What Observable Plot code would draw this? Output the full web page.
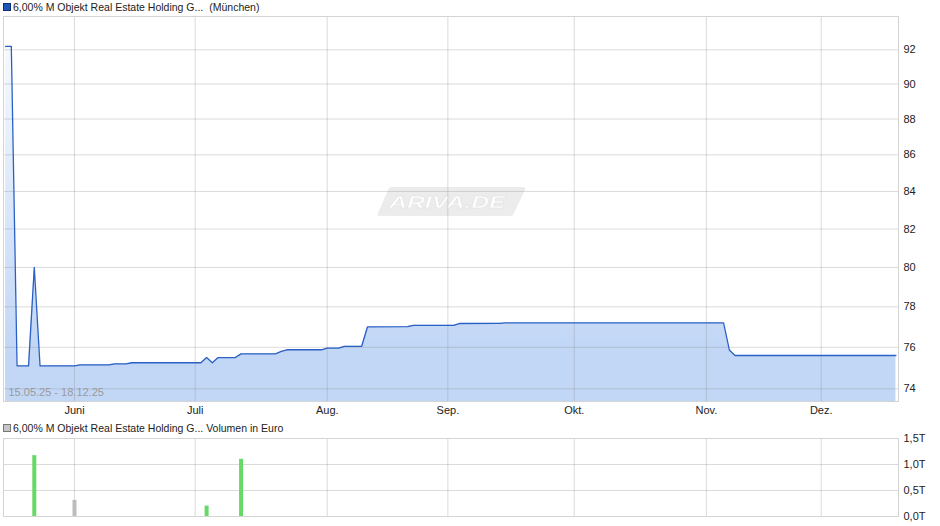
<!DOCTYPE html>
<html>
<head>
<meta charset="utf-8">
<script src="https://cdn.jsdelivr.net/npm/d3@7"></script>
<script src="https://cdn.jsdelivr.net/npm/@observablehq/plot@0.6"></script>
<style>
  body { margin: 0; background: #fff; font-family: "Liberation Sans", Arial, sans-serif; }
  #wrap { position: relative; width: 940px; height: 526px; overflow: hidden; }
  #price, #vol { position: absolute; left: 0; }
  #price { top: 0; }
  #vol { top: 430px; }
  .ttl { position: absolute; left: 3px; font-size: 10.5px; color: #222; white-space: nowrap; line-height: 14px; display: flex; align-items: center; }
  .sq { display: inline-block; width: 6px; height: 6px; margin-right: 2px; }
</style>
</head>
<body>
<div id="wrap">
  <div id="price"></div>
  <div id="vol"></div>
  <div class="ttl" style="top:0px"><span class="sq" style="background:#1d55b8;border:1px solid #0d2f70"></span>6,00% M Objekt Real Estate Holding G...<span style="margin-left:6px">(München)</span></div>
  <div class="ttl" style="top:421px"><span class="sq" style="background:#c6c6c6;border:1px solid #777"></span>6,00% M Objekt Real Estate Holding G... Volumen in Euro</div>
</div>
<script>
// ---- data ----
const startDate = "2025-05-15";
const priceDates = ["2025-05-15","2025-05-16","2025-05-19","2025-05-21","2025-05-22","2025-05-23","2025-06-02","2025-06-03","2025-06-10","2025-06-11","2025-06-13","2025-06-16","2025-07-02","2025-07-03","2025-07-04","2025-07-07","2025-07-10","2025-07-11","2025-07-21","2025-07-22","2025-07-23","2025-07-31","2025-08-01","2025-08-05","2025-08-06","2025-08-11","2025-08-12","2025-08-21","2025-08-22","2025-09-02","2025-09-03","2025-09-12","2025-09-15","2025-11-06","2025-11-07","2025-11-10","2025-12-18"];
const priceValues = [92.2,92.2,75.1,75.1,80.0,75.1,75.1,75.15,75.15,75.2,75.2,75.25,75.25,75.5,75.25,75.5,75.5,75.68,75.68,75.8,75.88,75.88,75.96,75.96,76.05,76.05,77.0,77.02,77.08,77.08,77.17,77.18,77.2,77.2,75.87,75.6,75.6];
const volDates = ["2025-05-22","2025-06-02","2025-07-03","2025-07-11"];
const volValues = [1.17, 0.31, 0.20, 1.10]; // in Tausend Euro
const volDir = ["up","flat","up","up"];
const monthDates = ["2025-06-02","2025-07-01","2025-08-01","2025-09-01","2025-10-01","2025-11-03","2025-12-01"];
const monthLabels = ["Juni","Juli","Aug.","Sep.","Okt.","Nov.","Dez."];
const priceTicks = [74,76,78,80,82,84,86,88,90,92];
const volTicks = [0,0.5,1.0,1.5];
const rangeLabel = "15.05.25 - 18.12.25";
const watermark = "ARIVA.DE";

// trading-day (weekday) index from start date
function tIdx(s) {
  const d = new Date(startDate + "T00:00:00Z"), t = new Date(s + "T00:00:00Z");
  let n = 0;
  while (d < t) { const w = d.getUTCDay(); if (w !== 0 && w !== 6) n++; d.setUTCDate(d.getUTCDate() + 1); }
  return n;
}
const price = priceDates.map((d, k) => ({i: tIdx(d), v: priceValues[k]}));
const vol = volDates.map((d, k) => ({i: tIdx(d), v: volValues[k], dir: volDir[k]}));
const monthIdx = monthDates.map(tIdx);
const xDomain = [-0.36, 155.45];
const yDomain = [73.40, 93.99];
const font = "Liberation Sans, Arial, sans-serif";

const priceChart = Plot.plot({
  width: 940, height: 420,
  marginTop: 16, marginBottom: 19, marginLeft: 3, marginRight: 42,
  style: {fontFamily: font, fontSize: "11px", color: "#222"},
  x: {domain: xDomain, axis: null},
  y: {type: "log", domain: yDomain, axis: null},
  marks: [
    Plot.areaY(price, {x: "i", y1: yDomain[0], y2: "v", fill: "url(#pg)"}),
    Plot.gridY({ticks: priceTicks, stroke: "#888", strokeOpacity: 0.3}),
    Plot.gridX({ticks: monthIdx, stroke: "#888", strokeOpacity: 0.3}),
    Plot.line(price, {x: "i", y: "v", stroke: "#2a60c4", strokeWidth: 1.3}),
    Plot.frame({stroke: "#d4d4d4"}),
    Plot.text([rangeLabel], {frameAnchor: "bottom-left", dx: 5, dy: -6, textAnchor: "start", fill: "#9a9a9a", fontSize: 11}),
    Plot.axisY({anchor: "right", ticks: priceTicks, tickSize: 0, tickPadding: 5, tickFormat: d => String(d), label: null}),
    Plot.axisX({ticks: monthIdx, tickSize: 0, tickPadding: 5, tickFormat: d => monthLabels[monthIdx.indexOf(d)], label: null})
  ]
});
document.getElementById("price").appendChild(priceChart);

// gradient + watermark (behind the grid)
(function() {
  const svg = d3.select(priceChart);
  const defs = svg.insert("defs", ":first-child");
  const g = defs.append("linearGradient").attr("id", "pg").attr("gradientUnits", "userSpaceOnUse")
    .attr("x1", 0).attr("x2", 0).attr("y1", 16).attr("y2", 345);
  g.append("stop").attr("offset", 0).attr("stop-color", "#fbfdff");
  g.append("stop").attr("offset", 1).attr("stop-color", "#c2d7f6");
  const wm = svg.insert("g", "defs + *");
  wm.append("path").attr("d", "M391,187 L523,187 Q526,187 525,190 L514,213 Q513,216 510,216 L380,216 Q376,216 378,213 L388,190 Q389,187 391,187 Z")
    .attr("fill", "#ececec");
  wm.append("text").attr("transform", "translate(389,208) scale(1.55,1)")
    .attr("text-anchor", "start")
    .attr("font-size", 16).attr("font-style", "italic").attr("font-weight", "bold")
    .attr("font-family", font).attr("fill", "#ffffff").attr("stroke", "#dedede").attr("stroke-width", 0.4)
    .text(watermark);
})();

const volChart = Plot.plot({
  width: 940, height: 96,
  marginTop: 8, marginBottom: 10, marginLeft: 3, marginRight: 42,
  style: {fontFamily: font, fontSize: "11px", color: "#222"},
  x: {domain: xDomain, axis: null},
  y: {domain: [0, 1.5], axis: null},
  marks: [
    Plot.gridY({ticks: [0.5, 1.0], stroke: "#888", strokeOpacity: 0.3}),
    Plot.gridX({ticks: monthIdx, stroke: "#888", strokeOpacity: 0.3}),
    Plot.ruleX(vol, {x: "i", y1: 0, y2: "v", stroke: d => d.dir === "up" ? "#66d966" : "#bdbdbd", strokeWidth: 4}),
    Plot.frame({stroke: "#d4d4d4"}),
    Plot.axisY({anchor: "right", ticks: volTicks, tickSize: 0, tickPadding: 5, tickFormat: d => d.toFixed(1).replace(".", ",") + "T", label: null})
  ]
});
document.getElementById("vol").appendChild(volChart);
</script>
</body>
</html>
